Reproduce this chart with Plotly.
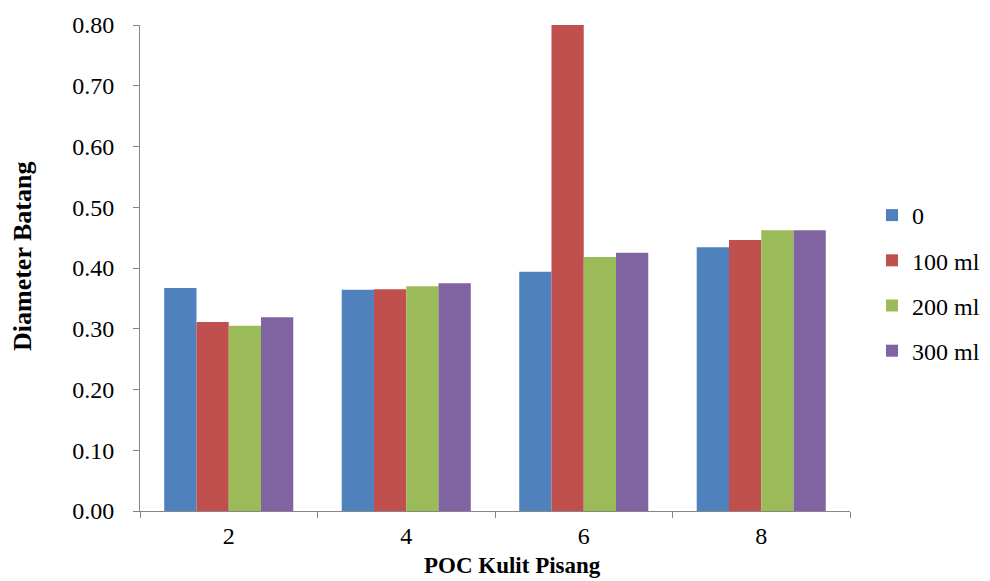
import plotly.graph_objects as go

# Stem diameter by banana-peel liquid organic fertilizer (POC) dose
categories = ["2", "4", "6", "8"]
series_names = ["0", "100 ml", "200 ml", "300 ml"]
values_0 = [0.367, 0.364, 0.394, 0.434]
values_100 = [0.311, 0.365, 0.800, 0.446]
values_200 = [0.305, 0.370, 0.418, 0.462]
values_300 = [0.319, 0.375, 0.425, 0.462]
y_ticks = [0.0, 0.1, 0.2, 0.3, 0.4, 0.5, 0.6, 0.7, 0.8]

x_title = "POC Kulit Pisang"
y_title = "Diameter Batang"

colors = ["#4F81BD", "#C0504D", "#9BBB59", "#8064A2"]
font_family = "Liberation Serif"

fig = go.Figure()
for name, vals, col in zip(series_names, [values_0, values_100, values_200, values_300], colors):
    fig.add_trace(go.Bar(
        x=categories, y=vals, name=name, legendgroup=name,
        marker=dict(color=col, line=dict(width=0)),
    ))

axis_color = "#868686"
W, H = 990, 581
fig.update_layout(
    width=W, height=H,
    margin=dict(l=140, r=140, t=25, b=70),
    paper_bgcolor="white", plot_bgcolor="white",
    barmode="group", bargap=0.273, bargroupgap=0,
    font=dict(family=font_family, size=24, color="black"),
    showlegend=True,
    # legend positioned in container coordinates so it does not shrink the plot area
    legend=dict(
        xref="container", yref="container",
        x=872 / W, y=1 - 193 / H, xanchor="left", yanchor="top",
        font=dict(family=font_family, size=24, color="black"),
        traceorder="grouped", tracegroupgap=11,
        bgcolor="rgba(0,0,0,0)",
    ),
    xaxis=dict(
        type="category", tickson="boundaries",
        showline=True, linecolor=axis_color, linewidth=1,
        ticks="outside", ticklen=6, tickcolor=axis_color,
        ticklabelstandoff=3,
        showgrid=False, zeroline=False,
        automargin=False,
    ),
    yaxis=dict(
        range=[0, 0.8], tickvals=y_ticks, tickformat=".2f",
        showline=True, linecolor=axis_color, linewidth=1,
        ticks="outside", ticklen=6, tickcolor=axis_color,
        ticklabelstandoff=14,
        showgrid=False, zeroline=False,
        automargin=False,
    ),
)

# axis titles placed as paper annotations
fig.add_annotation(
    text=f"<b>{x_title}</b>", xref="paper", yref="paper",
    x=(512 - 140) / 710, y=-(565 - 511) / 486,
    xanchor="center", yanchor="middle", showarrow=False,
    font=dict(family=font_family, size=23, color="black"),
)
fig.add_annotation(
    text=f"<b>{y_title}</b>", xref="paper", yref="paper",
    x=(22 - 140) / 710, y=(511 - 257) / 486, textangle=-90,
    xanchor="center", yanchor="middle", showarrow=False,
    font=dict(family=font_family, size=26, color="black"),
)

fig.write_html("out.html")
